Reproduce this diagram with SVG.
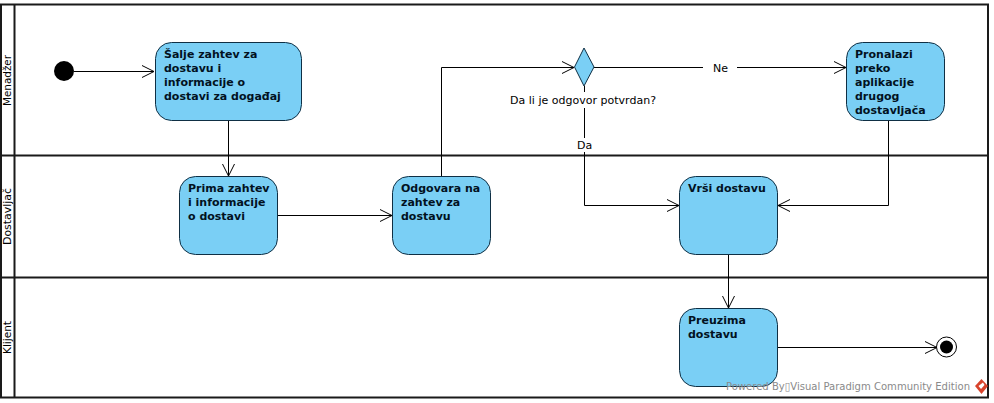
<svg xmlns="http://www.w3.org/2000/svg" width="994" height="403" viewBox="0 0 994 403">
<style>
text{font-family:"DejaVu Sans",sans-serif;font-size:11px;fill:#000}
.b{font-weight:bold;fill:#02121f}
.n{fill:#7acff5;stroke:#0f2f44;stroke-width:1}
.l{fill:none;stroke:#000;stroke-width:1}
.s{fill:none;stroke:#1a1a1a;stroke-width:2}
</style>
<defs>
<marker id="a" markerUnits="userSpaceOnUse" markerWidth="14" markerHeight="14" refX="13" refY="7" orient="auto"><path d="M1 1L13 7L1 13" fill="none" stroke="#000"/></marker>
</defs>
<rect width="994" height="403" fill="#fff"/>
<g id="pool">
<path class="s" d="M1 4.500H988V397.500H1ZM14.500 4.500V397.500M1 155.500H988M1 277.500H988"/>
<text transform="translate(11 106) rotate(-90)" textLength="51" lengthAdjust="spacingAndGlyphs">Menadžer</text>
<text transform="translate(11 245) rotate(-90)" textLength="57" lengthAdjust="spacingAndGlyphs">Dostavljač</text>
<text transform="translate(11 354) rotate(-90)" textLength="33" lengthAdjust="spacingAndGlyphs">Klijent</text>
</g>
<g id="connectors">
<path class="l" marker-end="url(#a)" d="M74 71.500H154"/>
<path class="l" marker-end="url(#a)" d="M228.500 121V176"/>
<path class="l" marker-end="url(#a)" d="M278 215.500H392"/>
<path class="l" marker-end="url(#a)" d="M441.500 176V67.500H574"/>
<path class="l" marker-end="url(#a)" d="M594 67.500H846"/>
<path class="l" marker-end="url(#a)" d="M584.500 86V205.500H679"/>
<path class="l" marker-end="url(#a)" d="M888.500 121V205.500H778"/>
<path class="l" marker-end="url(#a)" d="M728.500 255V308"/>
<path class="l" marker-end="url(#a)" d="M778 347.500H937"/>
<rect x="703" y="60" width="34" height="15" fill="#fff"/>
<text x="713" y="72">Ne</text>
<rect x="508" y="92" width="150" height="16" fill="#fff"/>
<text x="510" y="104" textLength="146">Da li je odgovor potvrdan?</text>
<rect x="576" y="138" width="18" height="14" fill="#fff"/>
<text x="577" y="149">Da</text>
</g>
<g id="start"><circle cx="64" cy="71" r="10" fill="#000"/></g>
<g id="n1"><rect class="n" x="155.500" y="42.500" width="146" height="78" rx="16"/>
<text class="b" x="164" y="58">Šalje zahtev za</text><text class="b" x="164" y="72">dostavu i</text><text class="b" x="164" y="86">informacije o</text><text class="b" x="164" y="100">dostavi za događaj</text></g>
<g id="n2"><rect class="n" x="179.500" y="176.500" width="98" height="78" rx="16"/>
<text class="b" x="188" y="192">Prima zahtev</text><text class="b" x="188" y="206">i informacije</text><text class="b" x="188" y="220">o dostavi</text></g>
<g id="n3"><rect class="n" x="392.500" y="176.500" width="98" height="78" rx="16"/>
<text class="b" x="401" y="192">Odgovara na</text><text class="b" x="401" y="206">zahtev za</text><text class="b" x="401" y="220">dostavu</text></g>
<g id="decision"><path class="n" d="M584 48L594 67L584 86L574.500 67Z"/></g>
<g id="n4"><rect class="n" x="846.500" y="42.500" width="98" height="78" rx="16"/>
<text class="b" x="855" y="58">Pronalazi</text><text class="b" x="855" y="72">preko</text><text class="b" x="855" y="86">aplikacije</text><text class="b" x="855" y="100">drugog</text><text class="b" x="855" y="114">dostavljača</text></g>
<g id="n5"><rect class="n" x="679.500" y="176.500" width="98" height="78" rx="16"/>
<text class="b" x="688" y="192">Vrši dostavu</text></g>
<g id="n6"><rect class="n" x="679.500" y="308.500" width="98" height="78" rx="16"/>
<text class="b" x="688" y="324">Preuzima</text><text class="b" x="688" y="338">dostavu</text></g>
<g id="end"><circle cx="946.500" cy="347" r="10" fill="#fff" stroke="#000"/><circle cx="946.500" cy="347" r="6.500" fill="#000"/></g>
<g id="watermark"><text x="726" y="390" textLength="244" lengthAdjust="spacingAndGlyphs" style="fill:#8a8a8a">Powered By▯Visual Paradigm Community Edition</text>
<path d="M981.500 379L988 386L981.500 394L975 386Z" fill="#d8432c"/><path d="M978.500 386L983 382.500L984.500 385L981 389Z" fill="#fff"/></g>
</svg>
